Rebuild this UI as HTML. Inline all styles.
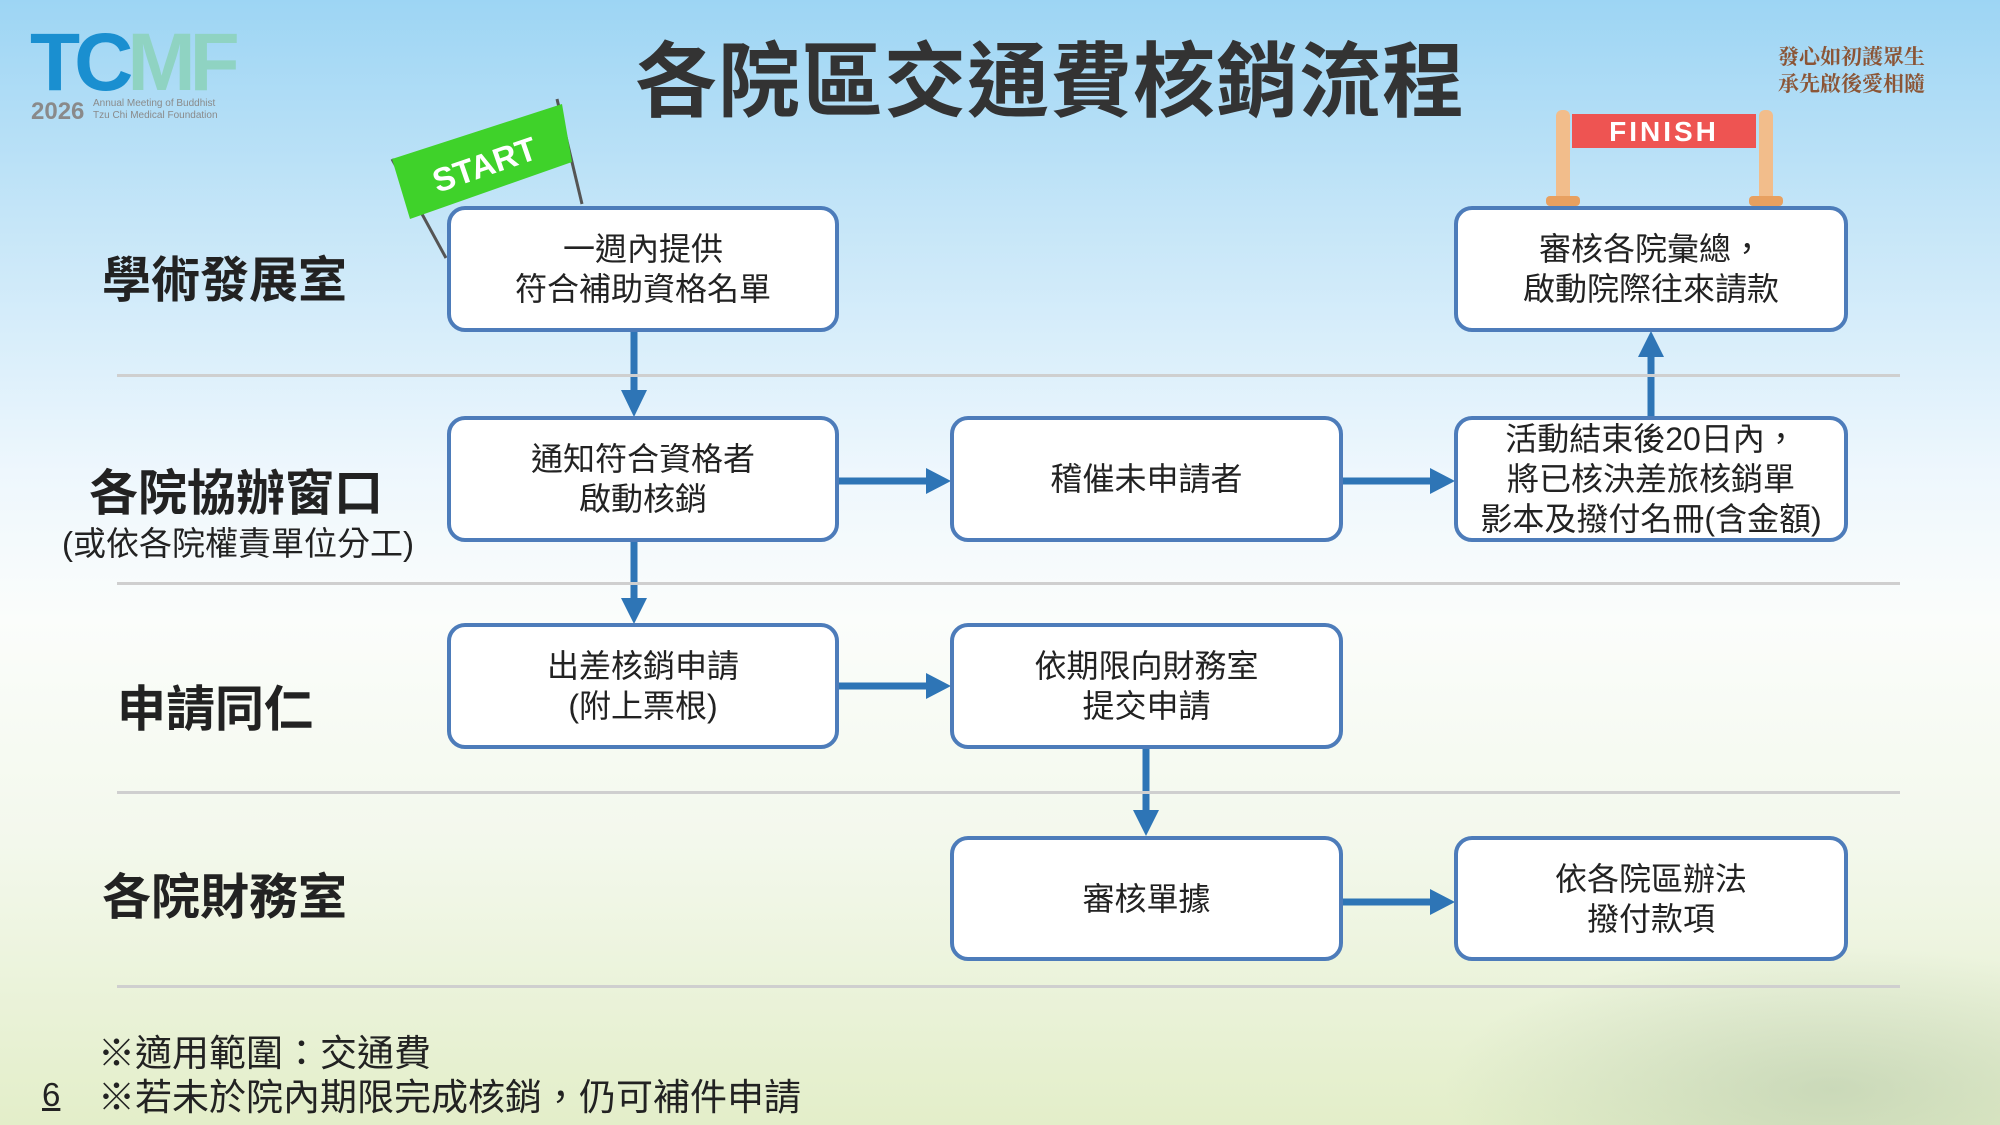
<!DOCTYPE html>
<html><head><meta charset="utf-8"><style>
html,body{margin:0;padding:0}
body{width:2000px;height:1125px;position:relative;overflow:hidden;font-family:"Liberation Sans","Noto Sans CJK TC",sans-serif;
background:linear-gradient(180deg,#9dd5f4 0%,#c6e6f8 20%,#eef7fd 42%,#fbfdfb 55%,#f3f8ec 75%,#e3eec9 100%);}
.box{position:absolute;box-sizing:border-box;border:4px solid #4d7cba;border-radius:18px;background:#fff;display:flex;align-items:center;justify-content:center;text-align:center;font-size:32px;line-height:40px;color:#222;white-space:nowrap}
.lane{position:absolute;font-weight:bold;font-size:49px;color:#222;white-space:nowrap;line-height:1}
.sep{position:absolute;left:117px;width:1783px;height:3px;background:#cfcfcf}
.foot{position:absolute;left:98px;font-size:37px;color:#222;white-space:nowrap;line-height:1}
</style></head><body>
<div style="position:absolute;right:0;bottom:0;width:560px;height:180px;background:radial-gradient(ellipse at 70% 80%,rgba(170,190,160,.45),rgba(200,215,180,0) 70%)"></div>
<div style="position:absolute;left:30px;top:22px;font-size:82px;font-weight:bold;letter-spacing:-6px;line-height:1;color:#1a8fd0">TC<span style="color:#8fd3c2">MF</span></div>
<div style="position:absolute;left:31px;top:98px;font-size:24px;font-weight:bold;color:#8a8a8a">2026</div>
<div style="position:absolute;left:93px;top:98px;font-size:10px;color:#8a8a8a;line-height:12px">Annual Meeting of Buddhist<br>Tzu Chi Medical Foundation</div>
<div style="position:absolute;left:0;width:2000px;top:42px;text-align:center;padding-left:100px;box-sizing:border-box;font-size:82px;color:#333;line-height:1;letter-spacing:1px;font-weight:bold">各院區交通費核銷流程</div>
<div style="position:absolute;left:1778px;top:44px;font-size:21px;color:#8b5536;line-height:27px;font-family:'Liberation Serif','Noto Serif CJK SC',serif;font-weight:bold">發心如初護眾生<br>承先啟後愛相隨</div>
<svg style="position:absolute;left:0;top:0" width="2000" height="1125">
<line x1="392" y1="159" x2="446" y2="258" stroke="#555" stroke-width="3"/>
<line x1="557" y1="99" x2="582" y2="204" stroke="#555" stroke-width="3"/>
<polygon points="392,159 562,104 572,162 410,219" fill="#3fd22a"/>
<text x="485" y="176" transform="rotate(-19 485 166)" text-anchor="middle" font-family="Liberation Sans" font-weight="bold" font-size="33" fill="#fff">START</text>
<rect x="1556" y="110" width="14" height="92" rx="6" fill="#f2bd8b"/>
<rect x="1759" y="110" width="14" height="92" rx="6" fill="#f2bd8b"/>
<rect x="1546" y="196" width="34" height="10" rx="4" fill="#e8a060"/>
<rect x="1749" y="196" width="34" height="10" rx="4" fill="#e8a060"/>
<rect x="1572" y="114" width="184" height="34" fill="#ee5452"/>
<text x="1664" y="141" text-anchor="middle" font-family="Liberation Sans" font-weight="bold" font-size="28" letter-spacing="3" fill="#fff">FINISH</text>
<g fill="#2e75b6" stroke="#2e75b6">
<line x1="634" y1="330" x2="634" y2="392" stroke-width="7"/><polygon points="621,390 647,390 634,417" stroke="none"/>
<line x1="634" y1="541" x2="634" y2="600" stroke-width="7"/><polygon points="621,598 647,598 634,624" stroke="none"/>
<line x1="838" y1="481" x2="928" y2="481" stroke-width="7"/><polygon points="926,468 926,494 951,481" stroke="none"/>
<line x1="1342" y1="481" x2="1432" y2="481" stroke-width="7"/><polygon points="1430,468 1430,494 1455,481" stroke="none"/>
<line x1="1651" y1="417" x2="1651" y2="355" stroke-width="7"/><polygon points="1638,357 1664,357 1651,331" stroke="none"/>
<line x1="838" y1="686" x2="928" y2="686" stroke-width="7"/><polygon points="926,673 926,699 951,686" stroke="none"/>
<line x1="1146" y1="747" x2="1146" y2="812" stroke-width="7"/><polygon points="1133,810 1159,810 1146,836" stroke="none"/>
<line x1="1342" y1="902" x2="1432" y2="902" stroke-width="7"/><polygon points="1430,889 1430,915 1455,902" stroke="none"/>
</g>
</svg>
<div class="sep" style="top:374px"></div>
<div class="sep" style="top:582px"></div>
<div class="sep" style="top:791px"></div>
<div class="sep" style="top:985px"></div>
<div class="lane" style="left:102px;top:257px">學術發展室</div>
<div class="lane" style="left:89px;top:470px">各院協辦窗口</div>
<div style="position:absolute;left:62px;top:527px;font-size:33px;color:#222;white-space:nowrap;line-height:1">(或依各院權責單位分工)</div>
<div class="lane" style="left:117px;top:686px">申請同仁</div>
<div class="lane" style="left:102px;top:874px">各院財務室</div>
<div class="box" style="left:447px;top:206px;width:392px;height:126px">一週內提供<br>符合補助資格名單</div>
<div class="box" style="left:1454px;top:206px;width:394px;height:126px">審核各院彙總，<br>啟動院際往來請款</div>
<div class="box" style="left:447px;top:416px;width:392px;height:126px">通知符合資格者<br>啟動核銷</div>
<div class="box" style="left:950px;top:416px;width:393px;height:126px">稽催未申請者</div>
<div class="box" style="left:1454px;top:416px;width:394px;height:126px;line-height:40px">活動結束後20日內，<br>將已核決差旅核銷單<br>影本及撥付名冊(含金額)</div>
<div class="box" style="left:447px;top:623px;width:392px;height:126px">出差核銷申請<br>(附上票根)</div>
<div class="box" style="left:950px;top:623px;width:393px;height:126px">依期限向財務室<br>提交申請</div>
<div class="box" style="left:950px;top:836px;width:393px;height:125px">審核單據</div>
<div class="box" style="left:1454px;top:836px;width:394px;height:125px">依各院區辦法<br>撥付款項</div>
<div class="foot" style="top:1035px">※適用範圍：交通費</div>
<div class="foot" style="top:1079px">※若未於院內期限完成核銷，仍可補件申請</div>
<div style="position:absolute;left:42px;top:1078px;font-size:33px;color:#222;text-decoration:underline;line-height:1">6</div>
</body></html>
